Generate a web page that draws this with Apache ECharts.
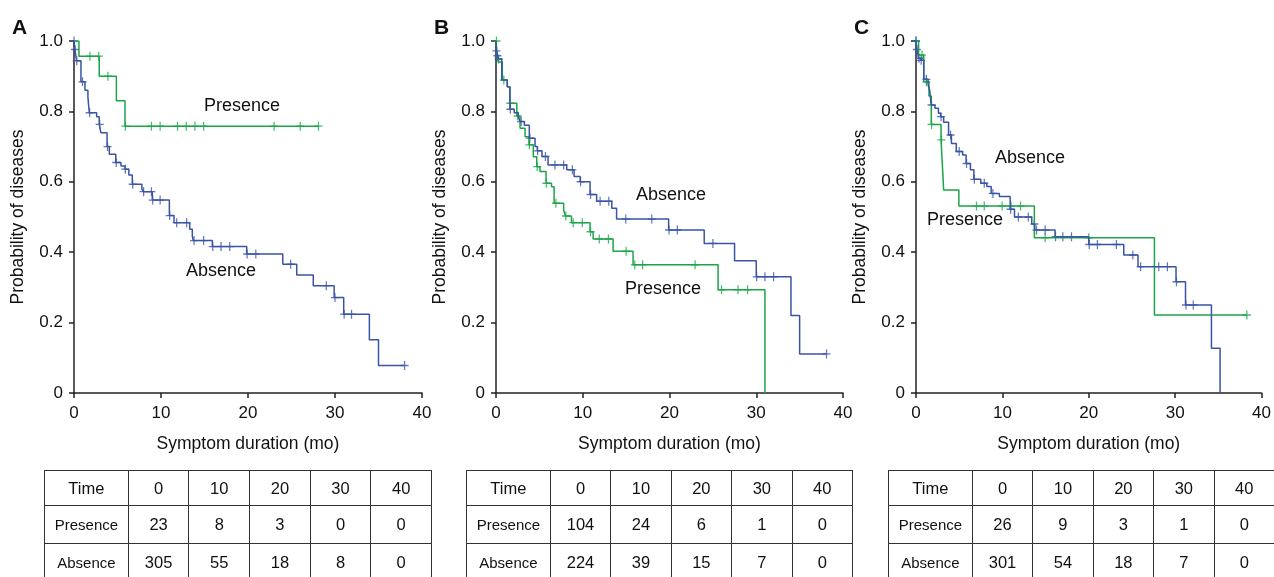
<!DOCTYPE html>
<html>
<head>
<meta charset="utf-8">
<script src="https://cdn.jsdelivr.net/npm/echarts@6/dist/echarts.min.js"></script>
<style>
  body { margin: 0; background: #fff; font-family: "Liberation Sans", Arial, sans-serif; }
  #wrap { position: relative; width: 1274px; height: 577px; overflow: hidden; }
  #chart { position: absolute; left: 0; top: 0; width: 1274px; height: 577px; }
  table.risk { position: absolute; top: 470px; border-collapse: collapse; table-layout: fixed; color: #111; }
  table.risk td { border: 1.5px solid #333; text-align: center; padding: 0; font-size: 16.5px; }
  table.risk td.lab { font-size: 15px; }
</style>
</head>
<body>
<div id="wrap">
  <div id="chart"></div>
</div>
<script>
// ---- data ----
var tableHead = ['Time', '0', '10', '20', '30', '40'];

// Panel A
var aPresT = [0, 0.57, 2.9, 4.87, 5.86, 28.1];
var aPresS = [1, 0.957, 0.90, 0.83, 0.758, 0.758];
var aPresCens = [1.84, 2.85, 3.9, 5.9, 8.9, 9.9, 11.9, 12.9, 13.9, 14.9, 23.0, 26.0, 28.1];
var aAbsT = [0, 0.1, 0.3, 0.8, 1.26, 1.6, 1.76, 2.6, 2.9, 3.1, 3.8, 4.06, 4.8, 5.4, 5.86, 6.3, 6.7, 7.8, 7.97, 9.0,
  10.96, 11.5, 13.3, 13.6, 13.7, 15.9, 19.85, 24.0, 25.6, 27.5, 29.9, 31.0, 33.95, 35.0, 38.0];
var aAbsS = [1, 0.976, 0.944, 0.884, 0.86, 0.84, 0.796, 0.785, 0.763, 0.739, 0.70, 0.678, 0.655, 0.645, 0.636, 0.619, 0.593, 0.58, 0.572, 0.548,
  0.504, 0.484, 0.465, 0.446, 0.433, 0.416, 0.395, 0.366, 0.335, 0.305, 0.271, 0.224, 0.151, 0.078, 0.078];
var aAbsCens = [0, 0.12, 0.32, 0.98, 1.8, 2.95, 3.85, 4.85, 5.9, 6.75, 8.0, 8.9, 9.05, 9.9, 11.0, 11.8, 12.95, 13.8,
  14.9, 15.95, 16.9, 17.9, 19.9, 20.9, 24.9, 29.0, 30.0, 31.05, 31.9, 38.0];
var aRiskPres = [23, 8, 3, 0, 0];
var aRiskAbs = [305, 55, 18, 8, 0];

// Panel B
var bPresT = [0, 0.15, 0.25, 0.73, 1.3, 1.6, 2.4, 2.77, 3.35, 3.8, 4.3, 4.7, 5.07, 5.77, 6.4, 6.7, 7.8, 8.0, 8.7,
  10.84, 11.2, 13.5, 15.8, 25.6, 31.0];
var bPresS = [1, 0.96, 0.94, 0.889, 0.87, 0.823, 0.787, 0.752, 0.728, 0.705, 0.671, 0.643, 0.629, 0.596, 0.586, 0.539, 0.52, 0.503, 0.484,
  0.458, 0.4375, 0.403, 0.364, 0.293, 0];
var bPresCens = [0.05, 0.9, 1.65, 2.5, 3.85, 4.75, 5.8, 6.9, 8.05, 8.9, 9.95, 10.9, 11.9, 12.96, 15.0, 16.0, 16.9,
  22.95, 26.0, 27.9, 29.0];
var bAbsT = [0, 0.05, 0.15, 0.3, 0.66, 1.3, 1.6, 2.1, 2.57, 2.77, 3.27, 3.84, 4.5, 4.76, 5.3, 6.0, 8.15, 9.0, 9.7,
  10.84, 11.6, 13.35, 13.9, 19.9, 24.0, 27.5, 30.0, 34.0, 35.0, 38.1];
var bAbsS = [1, 0.972, 0.958, 0.949, 0.889, 0.87, 0.806, 0.796, 0.785, 0.771, 0.761, 0.724, 0.70, 0.688, 0.672, 0.648, 0.634, 0.615, 0.60,
  0.564, 0.545, 0.525, 0.494, 0.463, 0.425, 0.376, 0.33, 0.22, 0.111, 0.111];
var bAbsCens = [0.05, 0.15, 0.3, 1.65, 2.9, 3.9, 4.8, 5.7, 6.8, 7.8, 8.8, 9.75, 10.9, 12.0, 13.0, 14.96, 17.96,
  19.95, 20.9, 25.0, 30.05, 31.0, 32.0, 38.1];
var bRiskPres = [104, 24, 6, 1, 0];
var bRiskAbs = [224, 39, 15, 7, 0];

// Panel C
var cPresT = [0, 0.3, 0.9, 1.5, 1.77, 2.9, 3.1, 3.2, 4.96, 13.7, 27.6, 38.3];
var cPresS = [1, 0.96, 0.884, 0.844, 0.763, 0.719, 0.626, 0.577, 0.531, 0.441, 0.2215, 0.2215];
var cPresCens = [0, 0.7, 1.2, 1.8, 2.95, 7.0, 7.9, 9.97, 11.0, 12.1, 14.95, 20.0, 38.3];
var cAbsT = [0, 0.1, 0.3, 0.54, 0.9, 1.4, 1.58, 1.77, 2.2, 2.6, 2.85, 3.2, 3.77, 4.1, 4.66, 5.4, 5.8, 6.3, 6.7, 7.5,
  8.2, 8.7, 9.65, 10.9, 11.4, 13.4, 13.75, 16.1, 20.0, 24.05, 25.7, 30.1, 31.2, 34.2, 35.2];
var cAbsS = [1, 0.976, 0.951, 0.945, 0.891, 0.875, 0.861, 0.818, 0.809, 0.795, 0.785, 0.769, 0.733, 0.709, 0.686, 0.676, 0.652, 0.634, 0.607, 0.596,
  0.587, 0.567, 0.558, 0.522, 0.50, 0.48, 0.463, 0.444, 0.422, 0.392, 0.359, 0.316, 0.25, 0.127, 0];
var cAbsCens = [0, 0.1, 0.35, 0.6, 1.2, 1.8, 2.9, 4.0, 5.0, 5.85, 6.75, 7.9, 8.9, 10.95, 11.85, 13.0, 13.7, 13.95,
  14.95, 16.15, 17.0, 18.0, 20.05, 21.0, 23.2, 25.1, 26.0, 28.1, 29.1, 30.15, 31.25, 32.1];
var cRiskPres = [26, 9, 3, 1, 0];
var cRiskAbs = [301, 54, 18, 7, 0];

var GREEN = '#1ca548';
var BLUE = '#3a54a5';
var AXIS = '#222';
var FONT = '"Liberation Sans", Arial, sans-serif';

var panels = [
  { letter: 'A', left: 74, width: 348, pres: [aPresT, aPresS, aPresCens], abs: [aAbsT, aAbsS, aAbsCens],
    presLab: [242, 106], absLab: [221, 271], risk: [aRiskPres, aRiskAbs], tLeft: 44, tW: 388 },
  { letter: 'B', left: 496, width: 347, pres: [bPresT, bPresS, bPresCens], abs: [bAbsT, bAbsS, bAbsCens],
    presLab: [663, 289], absLab: [671, 195], risk: [bRiskPres, bRiskAbs], tLeft: 466, tW: 387 },
  { letter: 'C', left: 916, width: 347, pres: [cPresT, cPresS, cPresCens], abs: [cAbsT, cAbsS, cAbsCens],
    presLab: [965, 220], absLab: [1030, 158], risk: [cRiskPres, cRiskAbs], tLeft: 888, tW: 387 }
];

function zip(T, S) {
  return T.map(function (t, i) { return [t, S[i]]; });
}
function survAt(T, S, t) {
  var v = S[0];
  for (var i = 0; i < T.length; i++) { if (T[i] <= t) v = S[i]; }
  return v;
}
function censPts(T, S, C) {
  return C.map(function (t) { return [t, survAt(T, S, t)]; });
}

var grids = [], xAxes = [], yAxes = [], series = [], graphics = [];
panels.forEach(function (p, k) {
  grids.push({ left: p.left, top: 41, width: p.width, height: 352 });
  xAxes.push({
    gridIndex: k, type: 'value', min: 0, max: 40, interval: 10,
    name: 'Symptom duration (mo)', nameLocation: 'middle', nameGap: 42,
    nameTextStyle: { fontSize: 17.5, color: '#111', fontFamily: FONT },
    axisLine: { lineStyle: { color: AXIS, width: 1.5 } },
    axisTick: { length: 5, lineStyle: { color: AXIS, width: 1.5 } },
    axisLabel: { fontSize: 17, color: '#111', margin: 12, fontFamily: FONT },
    splitLine: { show: false }
  });
  yAxes.push({
    gridIndex: k, type: 'value', min: 0, max: 1, interval: 0.2,
    name: 'Probability of diseases', nameLocation: 'middle', nameGap: 47,
    nameTextStyle: { fontSize: 17.5, color: '#111', fontFamily: FONT },
    axisLine: { show: true, lineStyle: { color: AXIS, width: 1.5 } },
    axisTick: { show: true, length: 5, lineStyle: { color: AXIS, width: 1.5 } },
    axisLabel: { fontSize: 17, color: '#111', margin: 11, fontFamily: FONT,
      formatter: function (v) { return v === 0 ? '0' : v.toFixed(1); } },
    splitLine: { show: false }
  });
  [[p.pres, GREEN], [p.abs, BLUE]].forEach(function (g) {
    var d = g[0], c = g[1];
    series.push({
      type: 'line', xAxisIndex: k, yAxisIndex: k, step: 'end', showSymbol: false,
      data: zip(d[0], d[1]), lineStyle: { color: c, width: 1.5 }, animation: false
    });
    series.push({
      type: 'scatter', xAxisIndex: k, yAxisIndex: k,
      symbol: 'path://M5,0 L5,10 M0,5 L10,5', symbolSize: [8, 9],
      data: censPts(d[0], d[1], d[2]),
      itemStyle: { color: 'none', borderColor: c, borderWidth: 1.3 }, animation: false
    });
  });
  graphics.push({ type: 'text', x: p.left - 62, y: 18, style: { text: p.letter, font: 'bold 21px ' + FONT, fill: '#111' } });
  graphics.push({ type: 'text', x: p.presLab[0], y: p.presLab[1],
    style: { text: 'Presence', font: '18px ' + FONT, fill: '#111', align: 'center', verticalAlign: 'middle' } });
  graphics.push({ type: 'text', x: p.absLab[0], y: p.absLab[1],
    style: { text: 'Absence', font: '18px ' + FONT, fill: '#111', align: 'center', verticalAlign: 'middle' } });
});

var chart = echarts.init(document.getElementById('chart'));
chart.setOption({
  animation: false,
  grid: grids, xAxis: xAxes, yAxis: yAxes, series: series, graphic: graphics
});

// number-at-risk tables
var wrap = document.getElementById('wrap');
panels.forEach(function (p) {
  var tb = document.createElement('table');
  tb.className = 'risk';
  tb.style.left = p.tLeft + 'px';
  tb.style.width = p.tW + 'px';
  var firstPct = 84 / p.tW * 100;
  var colPct = (100 - firstPct) / 5;
  var cg = document.createElement('colgroup');
  for (var i = 0; i < 6; i++) {
    var col = document.createElement('col');
    col.style.width = (i === 0 ? firstPct : colPct) + '%';
    cg.appendChild(col);
  }
  tb.appendChild(cg);
  var rows = [tableHead, ['Presence'].concat(p.risk[0]), ['Absence'].concat(p.risk[1])];
  var heights = [35, 38, 38];
  rows.forEach(function (r, ri) {
    var tr = document.createElement('tr');
    tr.style.height = heights[ri] + 'px';
    r.forEach(function (v, ci) {
      var td = document.createElement('td');
      td.textContent = v;
      if (ci === 0 && ri > 0) td.className = 'lab';
      tr.appendChild(td);
    });
    tb.appendChild(tr);
  });
  wrap.appendChild(tb);
});
</script>
</body>
</html>
